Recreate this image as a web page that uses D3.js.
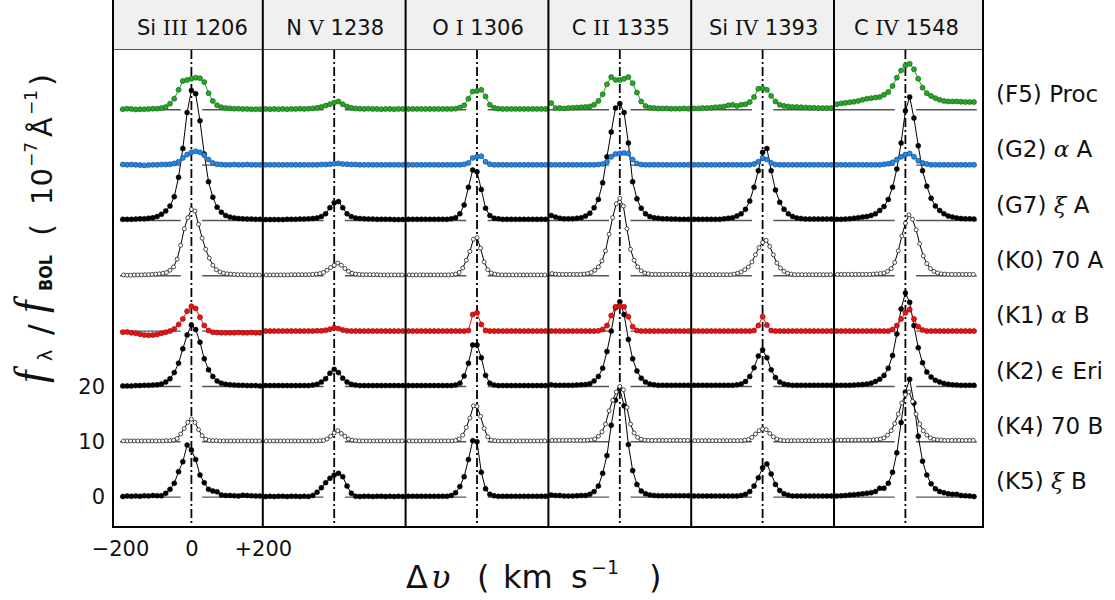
<!DOCTYPE html>
<html><head><meta charset="utf-8">
<script src="https://cdn.jsdelivr.net/npm/d3@7"></script>
<style>body{margin:0;background:#fff}svg{display:block}</style>
</head><body>
<svg id="c" width="1115" height="600"></svg>
<script>
// ---------- data ----------
const lineIon   = ["Si", "N", "O", "C", "Si", "C"];
const lineStage = ["III", "V", "I", "II", "IV", "IV"];
const lineWave  = ["1206", "1238", "1306", "1335", "1393", "1548"];

const starCodes = ["(F5)", "(G2)", "(G7)", "(K0)", "(K1)", "(K2)", "(K4)", "(K5)"];
const starNames = ["Proc", "α A", "ξ A", "70 A", "α B", "ϵ Eri", "70 B", "ξ B"];
const starOffsets = [70, 60, 50, 40, 30, 20, 10, 0];
const starKinds = ["green", "blue", "black", "open", "red", "black", "open", "black"];

const yTicks = [0, 10, 20];
const xTicks = [-200, 0, 200];
const xTickLabels = ["\u2212200", "0", "+200"];

const velFilled = [-192,-180,-168,-156,-144,-132,-120,-108,-96,-84,-72,-60,-48,-36,-24,-12,0,12,24,36,48,60,72,84,96,108,120,132,144,156,168,180,192];
const velOpen = [-190,-180,-170,-160,-150,-140,-130,-120,-110,-100,-90,-80,-70,-60,-50,-40,-30,-20,-10,0,10,20,30,40,50,60,70,80,90,100,110,120,130,140,150,160,170,180,190];

// flux (10^-7 A^-1) per star, one array per line: Si III, N V, O I, C II, Si IV, C IV
const F5 = [
 [0.1,0.2,0.15,0.05,0.1,0.1,0.15,0.2,0.2,0.3,0.5,1.1,2.0,3.6,5.2,5.4,5.6,5.8,5.7,5.0,3.0,1.6,0.8,0.45,0.3,0.25,0.2,0.2,0.15,0.15,0.1,0.1,0.1],
 [0.15,0.1,0.15,0.1,0.15,0.1,0.15,0.15,0.2,0.15,0.2,0.25,0.35,0.5,0.75,1.0,1.3,1.5,1.0,0.6,0.35,0.25,0.2,0.15,0.2,0.15,0.15,0.1,0.15,0.15,0.1,0.15,0.15],
 [0.15,0.15,0.15,0.15,0.15,0.15,0.15,0.15,0.15,0.15,0.15,0.2,0.4,0.8,2.0,3.3,3.4,3.6,2.4,0.9,0.35,0.2,0.15,0.15,0.15,0.15,0.15,0.15,0.15,0.15,0.15,0.15,0.15],
 [1.2,0.3,0.3,0.25,0.3,0.35,0.4,0.45,0.5,0.6,0.9,1.6,2.8,4.6,5.9,5.4,5.4,5.6,5.9,4.8,3.1,1.5,0.7,0.35,0.3,0.25,0.25,0.25,0.2,0.2,0.2,0.25,0.2],
 [0.25,0.25,0.3,0.3,0.35,0.45,0.5,0.6,0.8,0.9,0.7,0.9,1.0,1.4,2.3,3.8,3.9,3.6,2.5,1.5,0.9,0.7,0.6,0.5,0.5,0.45,0.4,0.35,0.35,0.3,0.3,0.3,0.3],
 [1.0,1.15,1.25,1.35,1.45,1.6,1.8,2.0,2.1,2.2,2.3,2.7,3.2,4.3,5.8,7.1,8.0,8.3,7.3,5.6,4.0,3.0,2.5,2.1,1.8,1.6,1.5,1.5,1.5,1.45,1.4,1.4,1.4]
];
const G2 = [
 [0.1,0.05,0.1,0.05,0.0,-0.05,0.0,0.05,0.05,0.1,0.1,0.15,0.3,0.6,1.3,1.9,2.3,2.5,2.3,1.8,1.0,0.4,0.15,0.1,0.05,0.05,0.1,0.05,0.05,0.1,0.05,0.05,0.05],
 [0.05,0.05,0.05,0.05,0.05,0.05,0.05,0.05,0.05,0.05,0.05,0.05,0.05,0.1,0.1,0.15,0.25,0.3,0.2,0.15,0.1,0.1,0.05,0.05,0.05,0.05,0.05,0.05,0.05,0.05,0.05,0.05,0.05],
 [0.05,0.05,0.05,0.05,0.05,0.05,0.05,0.05,0.05,0.05,0.05,0.05,0.05,0.15,0.4,1.3,1.5,1.6,0.6,0.15,0.05,0.05,0.05,0.05,0.05,0.05,0.05,0.05,0.05,0.05,0.05,0.05,0.05],
 [0.05,0.05,0.05,0.05,0.05,0.05,0.05,0.05,0.05,0.05,0.05,0.1,0.2,0.6,1.5,2.0,2.1,2.2,2.1,1.0,0.3,0.1,0.05,0.05,0.05,0.05,0.05,0.05,0.05,0.05,0.05,0.05,0.05],
 [0.05,0.05,0.05,0.05,0.05,0.05,0.05,0.05,0.05,0.05,0.05,0.05,0.05,0.05,0.2,0.6,1.3,1.0,0.4,0.1,0.05,0.05,0.05,0.05,0.05,0.05,0.05,0.05,0.05,0.05,0.05,0.05,0.05],
 [0.05,0.05,0.05,0.05,0.05,0.05,0.05,0.05,0.05,0.05,0.05,0.15,0.25,0.5,1.0,1.5,1.9,2.1,1.5,0.8,0.4,0.2,0.05,0.05,0.05,0.05,0.05,0.05,0.05,0.05,0.05,0.05,0.05]
];
const G7 = [
 [0.2,0.2,0.2,0.25,0.3,0.3,0.4,0.5,0.7,1.1,1.7,2.6,4.3,7.8,13.0,19.5,23.5,22.9,18.0,12.0,7.0,4.2,2.4,1.5,0.9,0.6,0.45,0.35,0.3,0.25,0.25,0.2,0.2],
 [0.15,0.15,0.15,0.15,0.15,0.2,0.2,0.2,0.25,0.25,0.3,0.35,0.45,0.7,1.2,2.3,3.2,3.4,2.3,1.2,0.7,0.45,0.35,0.3,0.25,0.25,0.2,0.2,0.2,0.2,0.15,0.15,0.15],
 [0.2,0.2,0.2,0.2,0.2,0.2,0.2,0.2,0.2,0.2,0.3,0.5,1.2,2.8,6.0,9.1,8.8,5.6,2.2,0.9,0.4,0.3,0.2,0.2,0.2,0.2,0.2,0.2,0.2,0.2,0.2,0.2,0.2],
 [0.9,0.6,0.4,0.3,0.3,0.3,0.4,0.5,0.8,1.3,2.3,3.8,6.8,11.5,16.0,20.3,21.1,19.5,14.0,7.0,3.9,2.2,1.2,0.7,0.5,0.4,0.3,0.3,0.25,0.25,0.2,0.2,0.2],
 [0.2,0.2,0.2,0.2,0.2,0.2,0.2,0.3,0.4,0.5,0.8,1.2,2.0,3.5,6.0,9.0,12.3,13.0,9.0,5.5,3.3,2.0,1.2,0.7,0.45,0.35,0.25,0.25,0.25,0.25,0.25,0.25,0.25],
 [0.2,0.2,0.25,0.3,0.4,0.5,0.6,0.7,0.9,1.2,1.8,2.5,3.8,6.0,9.3,14.0,19.8,22.3,18.5,13.5,9.0,6.2,4.0,2.6,1.8,1.2,0.8,0.6,0.45,0.35,0.3,0.3,0.25]
];
const K0 = [
 [0.15,0.1,0.1,0.15,0.15,0.15,0.2,0.2,0.25,0.3,0.35,0.45,0.6,1.0,1.6,3.0,5.5,8.5,10.5,12.0,11.7,9.3,6.8,4.8,3.2,1.9,1.1,0.7,0.45,0.35,0.3,0.25,0.2,0.2,0.2,0.15,0.15,0.15,0.15],
 [0.15,0.15,0.15,0.15,0.15,0.15,0.15,0.2,0.2,0.2,0.2,0.2,0.2,0.25,0.3,0.4,0.6,1.0,1.5,1.9,2.3,1.9,1.3,0.8,0.45,0.3,0.25,0.2,0.2,0.2,0.2,0.2,0.15,0.15,0.15,0.15,0.15,0.15,0.15],
 [0.15,0.15,0.15,0.15,0.15,0.15,0.15,0.15,0.15,0.15,0.15,0.15,0.2,0.3,0.6,1.4,2.8,4.4,6.6,6.9,5.0,2.5,1.1,0.5,0.3,0.2,0.15,0.15,0.15,0.15,0.15,0.15,0.15,0.15,0.15,0.15,0.15,0.15,0.15],
 [0.4,0.3,0.25,0.25,0.25,0.25,0.25,0.25,0.25,0.3,0.4,0.6,1.0,1.6,2.7,4.5,7.5,10.5,13.0,14.0,12.6,8.5,4.8,2.8,1.6,0.9,0.5,0.35,0.25,0.25,0.25,0.25,0.25,0.25,0.25,0.25,0.25,0.25,0.25],
 [0.2,0.2,0.2,0.2,0.2,0.2,0.2,0.2,0.2,0.2,0.2,0.3,0.45,0.7,1.1,1.6,2.5,3.8,5.1,6.0,6.4,5.3,3.8,2.3,1.4,0.8,0.45,0.3,0.2,0.2,0.2,0.2,0.2,0.2,0.2,0.2,0.2,0.2,0.2],
 [0.25,0.25,0.25,0.25,0.25,0.25,0.25,0.25,0.25,0.25,0.3,0.35,0.4,0.5,0.8,1.3,2.4,4.5,7.2,9.5,11.0,10.2,8.3,5.8,3.6,2.2,1.3,0.8,0.5,0.35,0.3,0.25,0.25,0.25,0.25,0.25,0.25,0.25,0.25]
];
const K1 = [
 [-0.2,-0.15,-0.3,-0.4,-0.55,-0.7,-0.75,-0.7,-0.6,-0.4,-0.2,0.0,0.4,1.2,2.2,3.6,4.5,4.1,2.5,1.0,0.1,-0.2,-0.25,-0.3,-0.3,-0.3,-0.3,-0.25,-0.3,-0.3,-0.25,-0.3,-0.3],
 [0,0,0,0,0,0,0,0,0,0,0,0,0.05,0.05,0.15,0.35,0.6,0.45,0.2,0.05,0,0,0,0,0,0,0,0,0,0,0,0,0],
 [0,0,0,0,0,0,0,0,0,0,0,0,0,0,0.1,3.0,3.3,1.2,0.1,0,0,0,0,0,0,0,0,0,0,0,0,0,0],
 [0,0,0,0,0,0,0,0,0,0,0,0.05,0.3,1.0,2.8,4.4,4.5,4.4,2.6,0.8,0.1,0,0,0,0,0,0,0,0,0,0,0,0],
 [0,0,0,0,0,0,0,0,0,0,0,0,0,0,0.1,1.0,2.6,1.1,0.1,0,0,0,0,0,0,0,0,0,0,0,0,0,0],
 [0,0,0,0,0,0,0,0,0,0,0,0,0,0.3,1.0,2.2,3.3,3.9,2.2,0.8,0.2,0,0,0,0,0,0,0,0,0,0,0,0]
];
const K2 = [
 [0.1,0.1,0.1,0.15,0.15,0.2,0.2,0.25,0.3,0.45,0.8,1.4,2.5,4.2,6.8,9.3,11.1,10.3,8.0,5.0,3.0,1.8,1.0,0.6,0.4,0.3,0.25,0.2,0.2,0.15,0.15,0.15,0.1],
 [0.15,0.15,0.15,0.15,0.15,0.15,0.15,0.15,0.15,0.15,0.15,0.25,0.4,0.8,1.4,2.4,3.1,2.5,1.5,0.8,0.4,0.25,0.15,0.15,0.15,0.15,0.15,0.15,0.15,0.15,0.15,0.15,0.15],
 [0.15,0.15,0.15,0.15,0.15,0.15,0.15,0.15,0.15,0.15,0.15,0.25,0.6,1.9,4.2,7.5,7.5,5.2,2.0,0.6,0.25,0.15,0.15,0.15,0.15,0.15,0.15,0.15,0.15,0.15,0.15,0.15,0.15],
 [0.3,0.2,0.2,0.2,0.2,0.2,0.25,0.3,0.35,0.5,1.0,1.8,3.3,6.3,10.0,14.2,15.3,13.0,8.5,5.0,2.8,1.5,0.8,0.45,0.3,0.2,0.2,0.2,0.2,0.2,0.2,0.2,0.2],
 [0.2,0.2,0.2,0.2,0.2,0.2,0.2,0.2,0.2,0.2,0.3,0.45,0.9,1.8,3.4,5.5,6.6,5.2,3.0,1.6,0.8,0.45,0.3,0.2,0.2,0.2,0.2,0.2,0.2,0.2,0.2,0.2,0.2],
 [0.2,0.2,0.2,0.2,0.25,0.3,0.35,0.45,0.6,0.9,1.3,2.0,3.3,5.6,9.5,14.0,16.9,15.2,11.0,7.0,4.3,2.6,1.7,1.1,0.8,0.55,0.4,0.3,0.25,0.2,0.2,0.2,0.2]
];
const K4 = [
 [0.15,0.15,0.15,0.15,0.15,0.15,0.15,0.15,0.15,0.15,0.15,0.15,0.2,0.2,0.3,0.6,1.4,2.4,3.5,4.1,3.5,2.2,1.1,0.45,0.25,0.2,0.2,0.15,0.15,0.15,0.15,0.15,0.15,0.15,0.15,0.15,0.15,0.15,0.15],
 [0.15,0.15,0.15,0.15,0.15,0.15,0.15,0.15,0.15,0.15,0.15,0.15,0.15,0.15,0.15,0.2,0.25,0.5,1.0,1.6,2.0,1.5,1.0,0.5,0.3,0.2,0.15,0.15,0.15,0.15,0.15,0.15,0.15,0.15,0.15,0.15,0.15,0.15,0.15],
 [0.15,0.15,0.15,0.15,0.15,0.15,0.15,0.15,0.15,0.15,0.15,0.15,0.15,0.25,0.5,1.2,2.6,4.3,6.5,6.4,4.6,2.4,0.9,0.3,0.2,0.15,0.15,0.15,0.15,0.15,0.15,0.15,0.15,0.15,0.15,0.15,0.15,0.15,0.15],
 [0.25,0.25,0.25,0.25,0.25,0.25,0.25,0.25,0.25,0.25,0.3,0.35,0.5,1.0,1.8,3.2,5.6,7.5,9.0,10.0,9.4,6.2,3.2,1.6,0.8,0.45,0.3,0.25,0.25,0.25,0.25,0.25,0.25,0.25,0.25,0.25,0.25,0.25,0.25],
 [0.2,0.2,0.2,0.2,0.2,0.2,0.2,0.2,0.2,0.2,0.2,0.2,0.2,0.2,0.3,0.4,0.8,1.4,2.0,2.3,2.2,1.5,0.9,0.5,0.3,0.2,0.2,0.2,0.2,0.2,0.2,0.2,0.2,0.2,0.2,0.2,0.2,0.2,0.2],
 [0.3,0.3,0.3,0.3,0.3,0.3,0.3,0.3,0.3,0.3,0.35,0.4,0.5,0.7,1.2,2.0,3.3,5.0,7.0,8.5,9.0,7.3,5.0,3.2,2.0,1.2,0.7,0.45,0.35,0.3,0.25,0.25,0.25,0.25,0.25,0.25,0.25,0.25,0.25]
];
const K5 = [
 [0.1,0.2,0.15,0.2,0.15,0.25,0.2,0.3,0.25,0.25,0.7,1.4,2.5,4.6,6.4,9.4,8.5,6.8,4.0,2.6,1.4,1.1,0.95,0.4,0.3,0.3,0.25,0.2,0.35,0.3,0.25,0.2,0.2],
 [0.1,0.15,0.1,0.15,0.15,0.1,0.15,0.15,0.1,0.15,0.1,0.3,0.9,1.7,2.6,3.4,4.0,4.3,3.7,2.0,0.7,0.15,0.1,0.15,0.15,0.1,0.15,0.15,0.1,0.15,0.1,0.15,0.1],
 [0.15,0.15,0.15,0.15,0.15,0.15,0.15,0.15,0.15,0.15,0.3,0.8,1.9,3.7,6.8,10.2,10.0,4.5,1.5,0.5,0.25,0.15,0.15,0.15,0.15,0.15,0.15,0.15,0.15,0.15,0.15,0.15,0.15],
 [0.4,0.3,0.3,0.2,0.2,0.2,0.25,0.3,0.3,0.5,1.0,2.0,4.3,7.5,13.0,17.5,19.6,16.5,9.5,4.8,2.3,1.1,0.6,0.4,0.3,0.25,0.25,0.25,0.25,0.25,0.25,0.25,0.25],
 [0.2,0.2,0.2,0.2,0.2,0.2,0.2,0.2,0.2,0.2,0.2,0.3,0.5,1.0,2.0,3.5,5.3,6.0,4.2,2.3,1.2,0.6,0.35,0.2,0.2,0.2,0.2,0.2,0.2,0.2,0.2,0.2,0.2],
 [0.2,0.25,0.3,0.4,0.45,0.5,0.6,0.7,0.8,1.0,1.6,1.6,2.5,4.5,8.0,13.5,19.0,21.3,17.0,11.0,6.5,4.0,2.4,1.5,1.0,0.8,0.6,0.5,0.5,0.3,0.25,0.2,0.1]
];
const starData = [F5, G2, G7, K0, K1, K2, K4, K5];

// ---------- layout ----------
const svg = d3.select("#c");
const frameL = 113, frameR = 983, headTop = 0, headBot = 50, plotBot = 527;
const x0 = 120, panelW = 142.8;
const y = d3.scaleLinear().domain([-5.4, 80.8]).range([plotBot, headBot]);
const xs = lineWave.map((_, k) => d3.scaleLinear().domain([-200, 200]).range([x0 + k * panelW, x0 + (k + 1) * panelW]));

const styles = {
  green: {line: "#1fa01f", fill: "#2aa52a", stroke: "#136b13", r: 2.5, sw: 0.7},
  blue:  {line: "#1a73d6", fill: "#2a86e0", stroke: "#10509a", r: 2.5, sw: 0.7},
  red:   {line: "#ee1111", fill: "#e81515", stroke: "#9a0b0b", r: 2.5, sw: 0.7},
  black: {line: "#000", fill: "#000", stroke: "#000", r: 2.5, sw: 0.5},
  open:  {line: "#000", fill: "#fff", stroke: "#222", r: 2.0, sw: 0.8}
};
const font = "'DejaVu Sans', Verdana, sans-serif";
const serif = "'Liberation Serif', 'DejaVu Serif', serif";

// header
svg.append("rect").attr("x", frameL).attr("y", headTop).attr("width", frameR - frameL).attr("height", headBot - headTop).attr("fill", "#f0f0f0");
svg.append("line").attr("x1", frameL).attr("x2", frameR).attr("y1", headBot - 0.5).attr("y2", headBot - 0.5).attr("stroke", "#555").attr("stroke-width", 1);

lineWave.forEach((w, k) => {
  const t = svg.append("text").attr("x", xs[k](0) + 1).attr("y", 35).attr("text-anchor", "middle")
    .attr("font-family", font).attr("font-size", 21).attr("fill", "#111");
  t.append("tspan").text(lineIon[k] + " ");
  t.append("tspan").attr("font-family", "'DejaVu Serif', serif").text(lineStage[k]);
  t.append("tspan").text(" " + w);
});

// baselines
const g = svg.append("g");
lineWave.forEach((w, k) => {
  starOffsets.forEach((off) => {
    [[-200, -30], [30, 200]].forEach(([a, b]) => {
      g.append("line").attr("x1", xs[k](a)).attr("x2", xs[k](b)).attr("y1", y(off)).attr("y2", y(off))
        .attr("stroke", "#555").attr("stroke-width", 1.4);
    });
  });
});

// center dash-dot lines
lineWave.forEach((w, k) => {
  g.append("line").attr("x1", xs[k](0)).attr("x2", xs[k](0)).attr("y1", headBot).attr("y2", plotBot)
    .attr("stroke", "#000").attr("stroke-width", 1.8).attr("stroke-dasharray", "9,3,2,3");
});

// spectra, from bottom star to top star
for (let s = starData.length - 1; s >= 0; s--) {
  const st = styles[starKinds[s]];
  const vel = starKinds[s] === "open" ? velOpen : velFilled;
  const off = starOffsets[s];
  starData[s].forEach((vals, k) => {
    const pts = vals.map((v, i) => [vel[i], v]);
    const line = d3.line().x(d => xs[k](d[0])).y(d => y(off + d[1]));
    g.append("path").attr("d", line(pts)).attr("fill", "none").attr("stroke", st.line).attr("stroke-width", 1);
    g.selectAll(null).data(pts).enter().append("circle")
      .attr("cx", d => xs[k](d[0])).attr("cy", d => y(off + d[1])).attr("r", st.r)
      .attr("fill", st.fill).attr("stroke", st.stroke).attr("stroke-width", st.sw);
  });
}

// frame and panel dividers
svg.append("line").attr("x1", frameL).attr("x2", frameL).attr("y1", 0).attr("y2", plotBot + 1).attr("stroke", "#000").attr("stroke-width", 2);
svg.append("line").attr("x1", frameR).attr("x2", frameR).attr("y1", 0).attr("y2", plotBot + 1).attr("stroke", "#000").attr("stroke-width", 2);
svg.append("line").attr("x1", frameL - 1).attr("x2", frameR + 1).attr("y1", plotBot).attr("y2", plotBot).attr("stroke", "#000").attr("stroke-width", 2);
for (let k = 1; k < lineWave.length; k++) {
  const xb = xs[k].range()[0];
  svg.append("line").attr("x1", xb).attr("x2", xb).attr("y1", 0).attr("y2", plotBot).attr("stroke", "#000").attr("stroke-width", 2);
}

// y axis labels
const yAx = d3.axisLeft(y).tickValues(yTicks).tickSize(0).tickPadding(8).tickFormat(d3.format("d"));
const ya = svg.append("g").attr("transform", `translate(${frameL},0)`).call(yAx);
ya.select(".domain").remove();
ya.selectAll("text").attr("font-family", font).attr("font-size", 21).attr("fill", "#111");

// x axis labels (first panel)
const xAx = d3.axisBottom(xs[0]).tickValues(xTicks).tickSize(0).tickPadding(14).tickFormat((d, i) => xTickLabels[i]);
const xa = svg.append("g").attr("transform", `translate(0,${plotBot})`).call(xAx);
xa.select(".domain").remove();
xa.selectAll("text").attr("font-family", font).attr("font-size", 21).attr("fill", "#111");

// star labels
starCodes.forEach((c, s) => {
  const t = svg.append("text").attr("x", 996).attr("y", y(starOffsets[s] + 2.9)).attr("dy", "0.36em")
    .attr("font-family", font).attr("font-size", 23).attr("fill", "#111");
  t.append("tspan").text(c + " ");
  const nm = starNames[s];
  if (/^[αξ]/.test(nm)) {
    t.append("tspan").attr("font-style", "italic").attr("font-family", "'DejaVu Serif', serif").text(nm[0]);
    t.append("tspan").text(nm.slice(1));
  } else {
    t.append("tspan").text(nm);
  }
});

// y title (rotated; local x = -screenY, local y = screenX)
const yg = svg.append("g").attr("transform", "rotate(-90)").attr("fill", "#111").attr("font-family", font);
const yPieces = [
  {t: "f", x: -383, y: 45, s: 44, fam: serif, it: true},
  {t: "λ", x: -361, y: 52, s: 19},
  {t: "/", x: -335, y: 51, s: 32},
  {t: "f", x: -313, y: 45, s: 44, fam: serif, it: true},
  {t: "BOL", x: -291, y: 52, s: 17, bold: true, len: 36},
  {t: "(", x: -236, y: 52, s: 31},
  {t: "10", x: -205, y: 52, s: 29},
  {t: "\u22127", x: -167, y: 37, s: 17},
  {t: "Å", x: -137, y: 52, s: 29},
  {t: "\u22121", x: -115, y: 37, s: 17},
  {t: ")", x: -86, y: 52, s: 31}
];
yPieces.forEach(p => {
  const t = yg.append("text").attr("x", p.x).attr("y", p.y).attr("font-size", p.s).text(p.t);
  if (p.fam) t.attr("font-family", p.fam);
  if (p.it) t.attr("font-style", "italic");
  if (p.bold) t.attr("font-weight", "bold");
  if (p.len) t.attr("textLength", p.len).attr("lengthAdjust", "spacingAndGlyphs");
});

// x title
const xPieces = [
  {t: "Δ", x: 406, y: 588, s: 32},
  {t: "υ", x: 431, y: 588, s: 32, fam: "'DejaVu Serif', serif", it: true},
  {t: "(", x: 477, y: 588, s: 32},
  {t: "km", x: 503, y: 588, s: 32},
  {t: "s", x: 571, y: 588, s: 32},
  {t: "\u22121", x: 591, y: 574, s: 19},
  {t: ")", x: 649, y: 588, s: 32}
];
const xg = svg.append("g").attr("fill", "#111").attr("font-family", font);
xPieces.forEach(p => {
  const t = xg.append("text").attr("x", p.x).attr("y", p.y).attr("font-size", p.s).text(p.t);
  if (p.fam) t.attr("font-family", p.fam);
  if (p.it) t.attr("font-style", "italic");
});
</script>
</body></html>
